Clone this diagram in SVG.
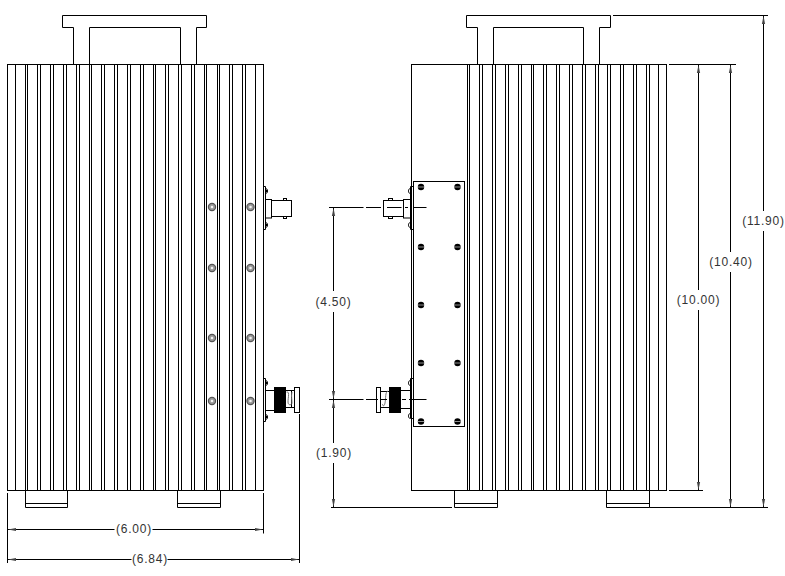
<svg xmlns="http://www.w3.org/2000/svg" width="785" height="576" viewBox="0 0 785 576">
<style>
.l{fill:none;stroke:#000;stroke-width:1}
.w{fill:#fff;stroke:#000;stroke-width:1}
.k{fill:#000;stroke:#000;stroke-width:1}
.d{fill:none;stroke:#000;stroke-width:1}
.a{marker-start:url(#ah)}
.t{font-family:"Liberation Sans",Arial,sans-serif;font-size:12px;letter-spacing:.75px;fill:#333;text-anchor:middle;dominant-baseline:central}
.r{fill:#999;stroke:#555;stroke-width:1.2}
.s{fill:#000}
.x{stroke:#ccc;stroke-width:.7}
</style>
<defs>
<marker id="ah" markerUnits="userSpaceOnUse" markerWidth="9" markerHeight="5" refX="0" refY="2.5" orient="auto"><path d="M0 2.5L8 .9V4.1Z" fill="#444"/></marker>
<g id="rivet"><circle class="r" r="3.6"/><circle r="1.3" fill="#f2f2f2"/></g>
<g id="screw"><circle class="s" r="3.2"/><path class="x" d="M-3 0H3"/></g>
</defs>
<rect width="785" height="576" fill="#fff"/>
<g id="left-view">
<path class="l" d="M73.5 64.5V27.5H62.5V15.5H206.5V27.5H196.5V64.5M89.5 64.5V27.5H180.5V64.5"/>
<rect class="l" x="7.5" y="64.5" width="256" height="426"/>
<path class="l" d="M15.5 64.5V490.5M25.5 64.5V490.5M27.5 64.5V490.5M37.5 64.5V490.5M40.5 64.5V490.5M50.5 64.5V490.5M53.5 64.5V490.5M63.5 64.5V490.5M66.5 64.5V490.5M76.5 64.5V490.5M79.5 64.5V490.5M89.5 64.5V490.5M91.5 64.5V490.5M101.5 64.5V490.5M104.5 64.5V490.5M114.5 64.5V490.5M117.5 64.5V490.5M127.5 64.5V490.5M130.5 64.5V490.5M140.5 64.5V490.5M143.5 64.5V490.5M153.5 64.5V490.5M155.5 64.5V490.5M165.5 64.5V490.5M168.5 64.5V490.5M178.5 64.5V490.5M181.5 64.5V490.5M191.5 64.5V490.5M194.5 64.5V490.5M204.5 64.5V490.5M206.5 64.5V490.5M217.5 64.5V490.5M219.5 64.5V490.5M229.5 64.5V490.5M232.5 64.5V490.5M242.5 64.5V490.5M245.5 64.5V490.5M255.5 64.5V490.5"/>
<path class="l" d="M25.5 490.5V507.5H67.5V490.5M25.5 503.5H67.5M177.5 490.5V507.5H220.5V490.5M177.5 503.5H220.5"/>
<use href="#rivet" x="212" y="207"/><use href="#rivet" x="250.500" y="207"/>
<use href="#rivet" x="212" y="268"/><use href="#rivet" x="250.500" y="268"/>
<use href="#rivet" x="212" y="338"/><use href="#rivet" x="250.500" y="338"/>
<use href="#rivet" x="212" y="401"/><use href="#rivet" x="250.500" y="401"/>
</g>
<g id="left-top-connector">
<path class="l" d="M263.500 186.500H265.500V229.500H263.500"/>
<path class="l" d="M266 188.500C268 189 268 193 266 193.500M266 222.500C268 223 268 227 266 227.500"/>
<circle class="s" cx="266.500" cy="191" r="1.300"/><circle class="s" cx="266.500" cy="225" r="1.300"/>
<rect class="l" x="265.500" y="199.500" width="6" height="18.500"/>
<rect class="l" x="271.500" y="200.500" width="20" height="16"/>
<rect class="l" x="283.500" y="198.500" width="3" height="2"/><rect class="l" x="283.500" y="216.500" width="3" height="2"/>
</g>
<g id="left-bottom-connector">
<path class="l" d="M263.500 378.500H265.500V421.500H263.500"/>
<path class="l" d="M266 380.500C268 381 268 385 266 385.500M266 414.500C268 415 268 419 266 419.500"/>
<circle class="s" cx="266.500" cy="383" r="1.300"/><circle class="s" cx="266.500" cy="417" r="1.300"/>
<path class="l" d="M265.500 390.500H274M265.500 410.500H274M286 390.500H294M286 407.500H294M291.500 390.500V407.500"/>
<rect class="k" x="274.500" y="387.500" width="11" height="25"/>
<rect class="l" x="294.500" y="387.500" width="5" height="25"/>
<path d="M286.500 392C290 391 288 398 288 402C288 406 292 405 292 403C292 399 291 396 292 392" fill="none" stroke="#777" stroke-width="1"/>
</g>
<g id="right-view">
<path class="l" d="M477.500 64.500V27.500H466.500V15.500H610.500V27.500H599.500V64.500M493.500 64.500V27.500H583.500V64.500"/>
<rect class="l" x="411.500" y="64.500" width="255" height="426"/>
<path class="l" d="M467.500 64.500V490.500M469.500 64.500V490.500M479.500 64.500V490.500M482.500 64.500V490.500M492.500 64.500V490.500M495.500 64.500V490.500M505.500 64.500V490.500M508.500 64.500V490.500M518.500 64.500V490.500M521.500 64.500V490.500M531.500 64.500V490.500M533.500 64.500V490.500M543.500 64.500V490.500M546.500 64.500V490.500M556.500 64.500V490.500M559.500 64.500V490.500M569.500 64.500V490.500M572.500 64.500V490.500M582.500 64.500V490.500M585.500 64.500V490.500M595.500 64.500V490.500M598.500 64.500V490.500M607.500 64.500V490.500M610.500 64.500V490.500M620.500 64.500V490.500M623.500 64.500V490.500M633.500 64.500V490.500M636.500 64.500V490.500M646.500 64.500V490.500M649.500 64.500V490.500M658.500 64.500V490.500"/>
<path class="l" d="M454.500 490.500V507.500H497.500V490.500M454.500 503.500H497.500M606.500 490.500V507.500H649.500V490.500M606.500 503.500H649.500"/>
</g>
<g id="plate">
<rect class="w" x="413.500" y="181.500" width="51" height="245"/>
<use href="#screw" x="421" y="187"/><use href="#screw" x="457.500" y="187"/>
<use href="#screw" x="421" y="247"/><use href="#screw" x="457.500" y="247"/>
<use href="#screw" x="421" y="305"/><use href="#screw" x="457.500" y="305"/>
<use href="#screw" x="421" y="363"/><use href="#screw" x="457.500" y="363"/>
<use href="#screw" x="421" y="421.500"/><use href="#screw" x="457.500" y="421.500"/>
</g>
<g id="right-top-connector">
<path class="l" d="M413.500 186.500H410.500V229.500H413.500"/>
<path class="l" d="M410 188.500C408 189 408 193 410 193.500M410 222.500C408 223 408 227 410 227.500"/>
<rect class="l" x="403.500" y="199.500" width="7" height="18.500"/>
<rect class="l" x="383.500" y="200.500" width="20" height="16"/>
<rect class="l" x="388.500" y="198.500" width="4" height="2"/><rect class="l" x="388.500" y="216.500" width="4" height="2"/>
</g>
<g id="right-bottom-connector">
<path class="l" d="M413.500 378.500H410.500V418.500H413.500"/>
<path class="l" d="M410 380.500C408 381 408 385 410 385.500M410 413.500C408 414 408 418 410 418.500"/>
<path class="l" d="M401 390.500H410.500M401 408.500H410.500M380.500 391.500H389M380.500 407.500H389"/>
<rect class="k" x="389.500" y="387.500" width="11" height="25"/>
<rect class="l" x="376.500" y="387.500" width="4" height="25"/>
<path d="M388 391C385 392 386 398 385 403C384.500 406 383 407 382.500 404" fill="none" stroke="#777" stroke-width="1"/>
</g>
<g id="connectors">
<path class="d" d="M7.500 493V563M263.500 493V533.500M299.500 414V563"/>
<path class="d a" d="M8 529.500H114.500"/><path class="d a" d="M263 529.500H152.500"/>
<path class="d a" d="M8 559.500H131.500"/><path class="d a" d="M299 559.500H167.500"/>
<path class="d" d="M329 207.500H363.500M366 207.500H381M387 207.500H401.500M405 207.500H408M413 207.500H426.500"/>
<path class="d" d="M329 399.500H363.500M366 399.500H378M381 399.500H387M402 399.500H406M409 399.500H426.500"/>
<path class="d" d="M331 507.500H452M649.500 507.500H768M613 15.500H768M669 64.500H736M669 490.500H703"/>
<path class="d a" d="M333.500 208V291"/><path class="d a" d="M333.500 399V312"/>
<path class="d a" d="M333.500 400V443"/><path class="d a" d="M333.500 507V463"/>
<path class="d a" d="M698.500 65V290"/><path class="d a" d="M698.500 490V310"/>
<path class="d a" d="M730.500 65V252"/><path class="d a" d="M730.500 507V272"/>
<path class="d a" d="M763.500 16V211"/><path class="d a" d="M763.500 507V231"/>
</g>
<g id="labels">
<text class="t" x="134" y="529">(6.00)</text>
<text class="t" x="150" y="558.500">(6.84)</text>
<text class="t" x="333.500" y="301.500">(4.50)</text>
<text class="t" x="334" y="453">(1.90)</text>
<text class="t" x="698.500" y="300">(10.00)</text>
<text class="t" x="731" y="262">(10.40)</text>
<text class="t" x="763.500" y="221">(11.90)</text>
</g>
</svg>
